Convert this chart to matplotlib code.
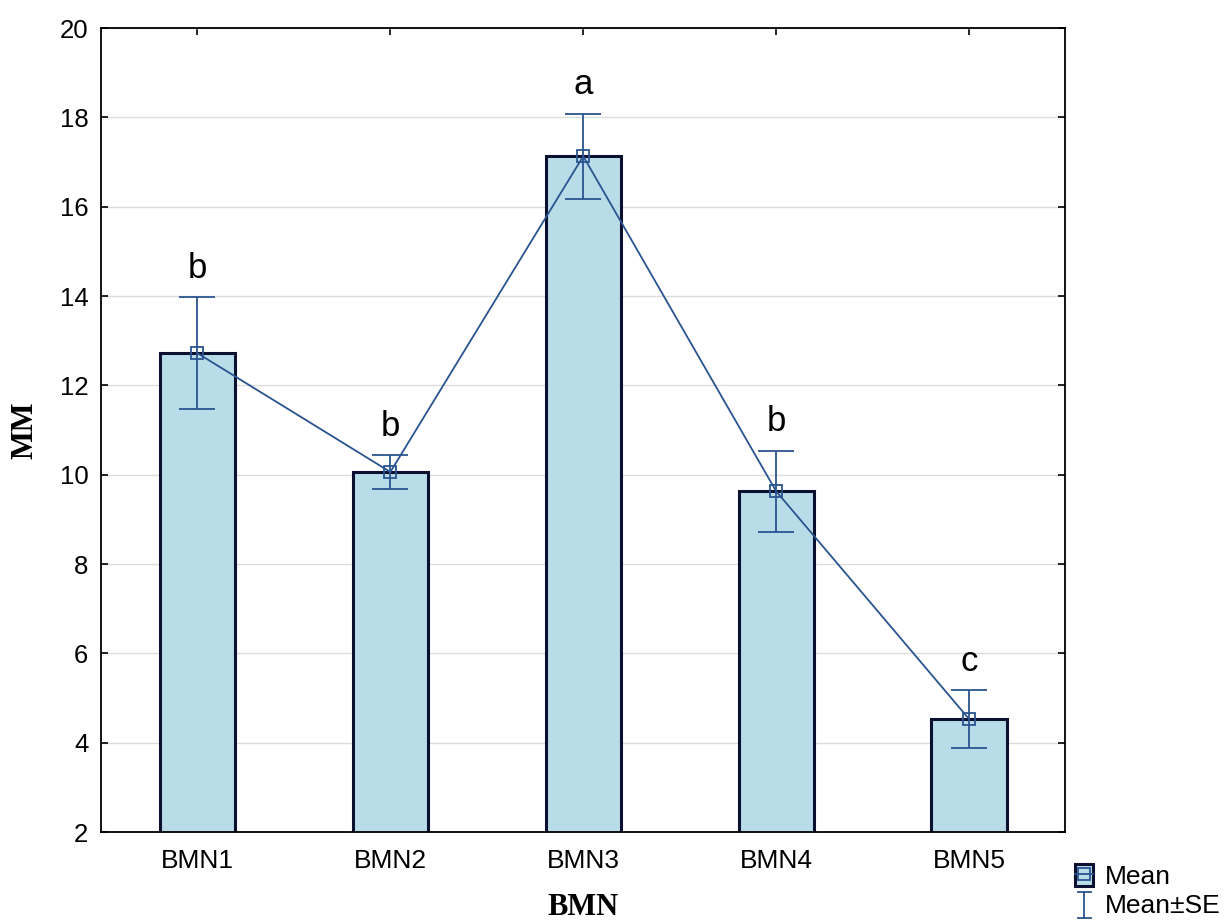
import matplotlib.pyplot as plt
from matplotlib.patches import Patch
from matplotlib.lines import Line2D
from matplotlib.legend_handler import HandlerBase

# group means with standard errors and significance letters
groups = ['BMN1', 'BMN2', 'BMN3', 'BMN4', 'BMN5']
means = [12.72, 10.06, 17.13, 9.63, 4.53]
se = [1.25, 0.38, 0.95, 0.91, 0.64]
letters = ['b', 'b', 'a', 'b', 'c']
yticks = [2, 4, 6, 8, 10, 12, 14, 16, 18, 20]

bar_fc = '#b8dde8'
bar_ec = '#0b1030'
line_c = '#2a5490'

plt.rcParams['font.family'] = ['Liberation Sans', 'DejaVu Sans']


class HandlerSE(HandlerBase):
    # vertical error bar with caps as a legend key
    def create_artists(self, legend, orig_handle, xdescent, ydescent,
                       width, height, fontsize, trans):
        cx = -xdescent + width / 2
        y0 = -ydescent - height * 0.15
        y1 = -ydescent + height * 1.05
        hw = width * 0.35
        arts = [Line2D([cx, cx], [y0, y1]),
                Line2D([cx - hw, cx + hw], [y0, y0]),
                Line2D([cx - hw, cx + hw], [y1, y1])]
        for a in arts:
            a.set_color(line_c)
            a.set_linewidth(1.3)
            a.set_transform(trans)
        return arts


fig = plt.figure(figsize=(12.24, 9.22), dpi=100)
ax = fig.add_axes([0.0825, 0.0976, 0.788, 0.872])

x = list(range(len(groups)))
ax.bar(x, means, width=0.39, color=bar_fc, edgecolor=bar_ec, linewidth=2.2, zorder=2)
ax.errorbar(x, means, yerr=se, color=line_c, marker='s', mfc='none', ms=8, mew=1.3,
            lw=1.3, elinewidth=1.3, capsize=13, capthick=1.3, zorder=3)

for xi, m, s, lab in zip(x, means, se, letters):
    ax.annotate(lab, (xi, m + s), xytext=(0, 14), textcoords='offset points',
                ha='center', va='baseline', fontsize=25)

ax.set_xlim(-0.5, 4.5)
ax.set_ylim(2, 20)
ax.set_xticks(x)
ax.set_xticklabels(groups)
ax.set_yticks(yticks)
ax.yaxis.grid(True, color='#dcdcdc', lw=1, zorder=0)
ax.set_axisbelow(True)
ax.tick_params(direction='in', length=5, width=1.2, top=True, right=True, labelsize=18.5)
ax.tick_params(axis='x', labelsize=19, pad=12)
ax.tick_params(axis='y', pad=9)
for sp in ax.spines.values():
    sp.set_linewidth(1.3)

ax.set_ylabel('MM', fontsize=22, fontweight='bold', family='Liberation Serif', va='center')
ax.yaxis.set_label_coords(-0.079, 0.5)
ax.set_xlabel('BMN', fontsize=22, fontweight='bold', family='Liberation Serif', va='center')
ax.xaxis.set_label_coords(0.5, -0.0945)

mean_key = (Patch(facecolor=bar_fc, edgecolor=bar_ec, linewidth=2.2),
            Line2D([], [], color=line_c, marker='s', mfc='none', ms=8, mew=1.3, lw=1.3))
se_key = Line2D([], [], color=line_c)
fig.legend([mean_key, se_key], ['Mean', 'Mean±SE'],
           handler_map={se_key: HandlerSE()},
           loc='lower left', bbox_to_anchor=(1075 / 1224, 4 / 922), frameon=False,
           fontsize=19, handlelength=0.7, handleheight=0.9, handletextpad=0.45,
           labelspacing=0.15, borderaxespad=0, borderpad=0)

fig.savefig('out.png', dpi=100)
